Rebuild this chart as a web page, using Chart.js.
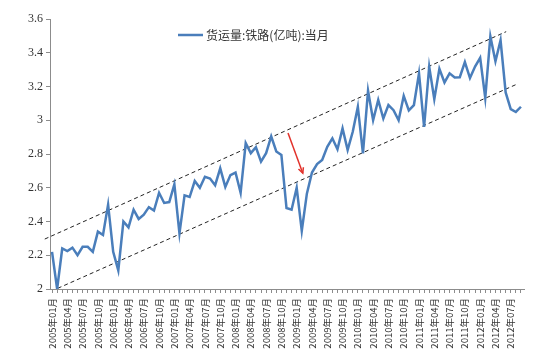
<!DOCTYPE html>
<html>
<head>
<meta charset="utf-8">
<script src="https://cdn.jsdelivr.net/npm/chart.js@4.4.1/dist/chart.umd.min.js"></script>
<style>
    html, body { margin: 0; padding: 0; background: #ffffff; }
    #wrap { width: 550px; height: 353px; }
</style>
</head>
<body>
<div id="wrap"><canvas id="freightChart" width="550" height="353"></canvas></div>
<script>

// ======================================
// Data
// ======================================

const seriesName = "货运量:铁路(亿吨):当月";

// 2005年01月 ... 2012年09月
const months = [];
for (let yr = 2005; yr <= 2012; yr++) {
    for (let m = 1; m <= 12; m++) {
        months.push(yr + "年" + String(m).padStart(2, "0") + "月");
    }
}
months.length = 93;

const freight = [
    2.22, 2.00, 2.24, 2.225, 2.245, 2.20, 2.25, 2.25, 2.22, 2.34, 2.32, 2.50,
    2.22, 2.11, 2.40, 2.365, 2.47, 2.415, 2.44, 2.485, 2.465, 2.57, 2.51, 2.515,
    2.62, 2.33, 2.555, 2.545, 2.64, 2.60, 2.665, 2.655, 2.615, 2.715, 2.605, 2.675,
    2.69, 2.57, 2.865, 2.805, 2.84, 2.755, 2.805, 2.905, 2.815, 2.795, 2.48, 2.47,
    2.60, 2.345, 2.565, 2.69, 2.74, 2.765, 2.843, 2.893, 2.828, 2.952, 2.824, 2.932,
    3.08, 2.804, 3.175, 3.00, 3.12, 3.01, 3.09, 3.06, 3.00, 3.144, 3.058, 3.09,
    3.278, 2.96, 3.318, 3.125, 3.305, 3.224, 3.278, 3.253, 3.255, 3.345, 3.25, 3.318,
    3.37, 3.132, 3.497, 3.35, 3.474, 3.165, 3.066, 3.049, 3.08
];

const yTicks = [2, 2.2, 2.4, 2.6, 2.8, 3, 3.2, 3.4, 3.6];
const yTickLabels = ["2", "2.2", "2.4", "2.6", "2.8", "3", "3.2", "3.4", "3.6"];

// channel lines, [month index, value]
const upperChannel = [[-1.43, 2.296], [89.1, 3.525]];
const lowerChannel = [[1.12, 2.004], [91.3, 3.215]];

// red arrow, [month index, value]
const arrowFrom = [46.3, 2.924];
const arrowTo = [49.2, 2.686];

// ======================================
// Colors
// ======================================

const lineBlue = "#4a7ebb";
const axisGray = "#8c8c8c";
const textColor = "#333333";
const arrowRed = "#e2322b";

// ======================================
// Legend + arrow overlay
// ======================================

const overlay = {
    id: "overlay",
    afterDraw(chart) {
        const { ctx, scales: { x, y } } = chart;

        const x1 = x.getPixelForValue(arrowFrom[0]);
        const y1 = y.getPixelForValue(arrowFrom[1]);
        const x2 = x.getPixelForValue(arrowTo[0]);
        const y2 = y.getPixelForValue(arrowTo[1]);
        const ang = Math.atan2(y2 - y1, x2 - x1);
        const head = 6;

        ctx.save();
        ctx.strokeStyle = arrowRed;
        ctx.lineWidth = 1.5;
        ctx.beginPath();
        ctx.moveTo(x1, y1);
        ctx.lineTo(x2, y2);
        ctx.stroke();
        ctx.beginPath();
        ctx.moveTo(x2 - head * Math.cos(ang - 0.45), y2 - head * Math.sin(ang - 0.45));
        ctx.lineTo(x2, y2);
        ctx.lineTo(x2 - head * Math.cos(ang + 0.45), y2 - head * Math.sin(ang + 0.45));
        ctx.stroke();

        // legend
        ctx.strokeStyle = lineBlue;
        ctx.lineWidth = 2.5;
        ctx.beginPath();
        ctx.moveTo(178, 35);
        ctx.lineTo(203, 35);
        ctx.stroke();
        ctx.fillStyle = textColor;
        ctx.font = '12px "Noto Sans CJK SC"';
        ctx.textBaseline = "middle";
        ctx.fillText(seriesName, 206, 35);
        ctx.restore();
    }
};

// ======================================
// Chart
// ======================================

new Chart(document.getElementById("freightChart"), {

    type: "line",

    data: {
        datasets: [
            {
                label: seriesName,
                data: freight.map((v, i) => ({ x: i, y: v })),
                borderColor: lineBlue,
                borderWidth: 2.5,
                pointRadius: 0,
                tension: 0
            },
            {
                label: "upper",
                data: upperChannel.map(p => ({ x: p[0], y: p[1] })),
                borderColor: "#222222",
                borderWidth: 1,
                borderDash: [4, 3],
                pointRadius: 0,
                clip: false
            },
            {
                label: "lower",
                data: lowerChannel.map(p => ({ x: p[0], y: p[1] })),
                borderColor: "#222222",
                borderWidth: 1,
                borderDash: [4, 3],
                pointRadius: 0,
                clip: false
            }
        ]
    },

    options: {
        responsive: false,
        animation: false,
        layout: { padding: { top: 19, right: 26, left: 0, bottom: 0 } },
        plugins: {
            legend: { display: false },
            tooltip: { enabled: false }
        },
        scales: {
            x: {
                type: "linear",
                min: -0.4,
                max: 92.6,
                afterBuildTicks: s => { s.ticks = months.map((_, i) => ({ value: i })); },
                afterFit: s => { s.height = 64; },
                border: { color: axisGray },
                grid: { drawOnChartArea: false, tickLength: 4, color: axisGray },
                ticks: {
                    autoSkip: false,
                    maxRotation: 90,
                    minRotation: 90,
                    padding: 5,
                    color: textColor,
                    font: { family: '"Noto Sans CJK SC"', size: 9.5 },
                    callback: v => (v % 3 === 0 ? months[v] : "")
                }
            },
            y: {
                min: 2,
                max: 3.6,
                afterBuildTicks: s => { s.ticks = yTicks.map(v => ({ value: v })); },
                afterFit: s => { s.width = 50; },
                border: { color: axisGray },
                grid: { drawOnChartArea: false, tickLength: 4, color: axisGray },
                ticks: {
                    padding: 3,
                    color: textColor,
                    font: { family: '"Liberation Serif"', size: 12 },
                    callback: (v, i) => yTickLabels[i]
                }
            }
        }
    },

    plugins: [overlay]

});

</script>
</body>
</html>
